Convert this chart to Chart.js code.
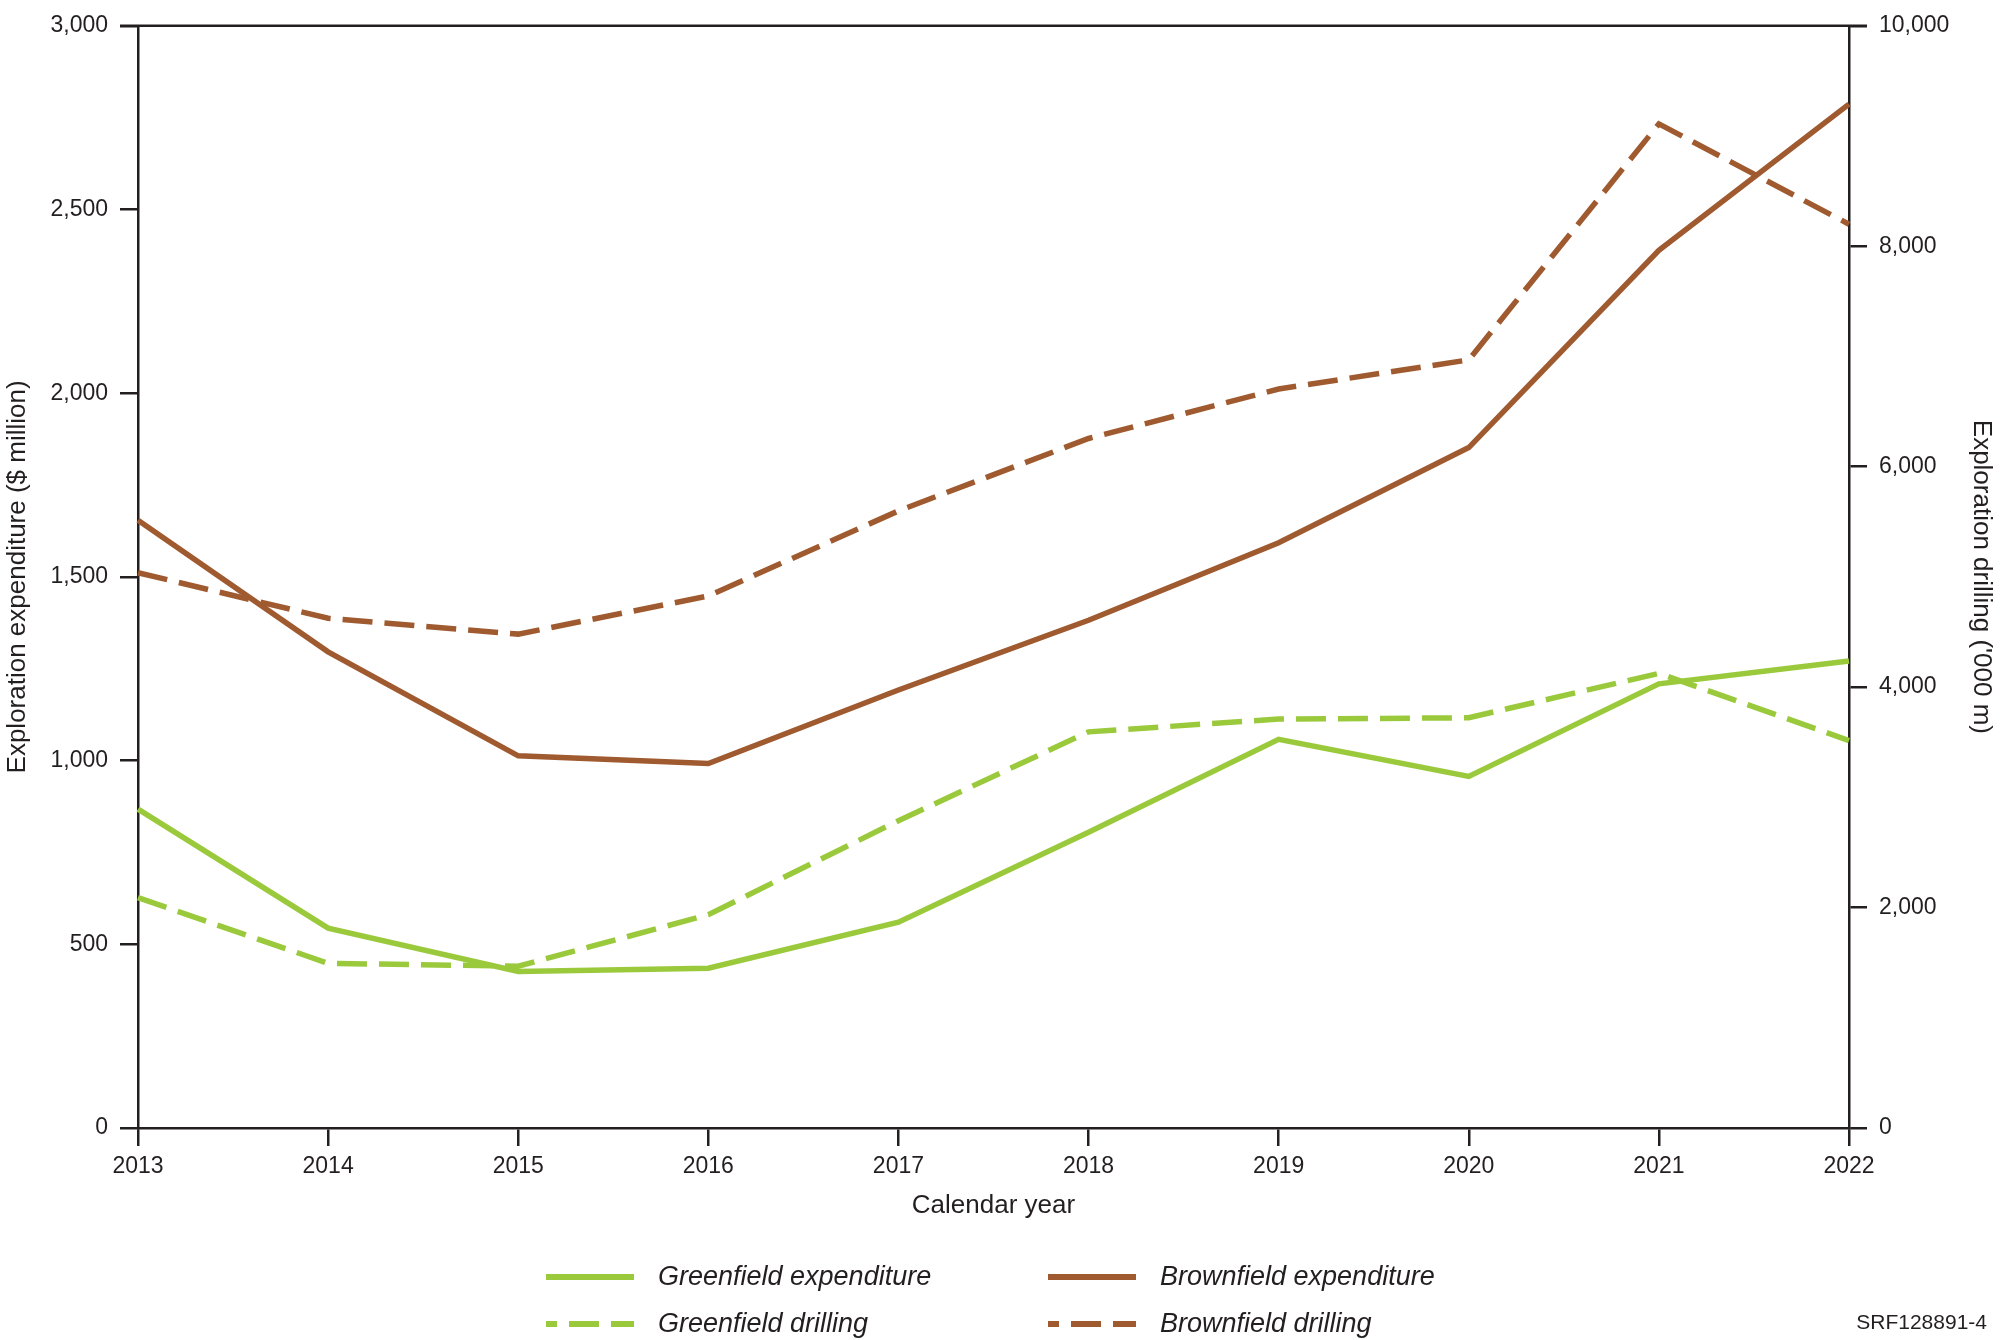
<!DOCTYPE html>
<html>
<head>
<meta charset="utf-8">
<script src="https://cdn.jsdelivr.net/npm/chart.js@4.4.0/dist/chart.umd.min.js"></script>
<style>
  html, body { margin: 0; padding: 0; background: #fff; }
  #wrap { width: 2000px; height: 1340px; position: relative; }
</style>
</head>
<body>
<div id="wrap"><canvas id="myChart" width="2000" height="1340"></canvas></div>
<script>
// values
const years = ['2013', '2014', '2015', '2016', '2017', '2018', '2019', '2020', '2021', '2022'];
const greenExpenditure = [868, 544, 426, 435, 560, 805, 1058, 957, 1209, 1271];
const brownExpenditure = [1654, 1296, 1013, 992, 1192, 1382, 1593, 1852, 2389, 2787];
const greenDrilling = [2090, 1494, 1468, 1935, 2788, 3594, 3710, 3722, 4125, 3515];
const brownDrilling = [5038, 4625, 4481, 4827, 5599, 6256, 6705, 6969, 9110, 8200];

const leftTicks = [0, 500, 1000, 1500, 2000, 2500, 3000];
const rightTicks = [0, 2000, 4000, 6000, 8000, 10000];

const GREEN = '#9aca3c';
const BROWN = '#a05a2f';
const INK = '#231f20';
const FONT = "'Liberation Sans Narrow', 'Arial Narrow', 'Liberation Sans', sans-serif";

const legendLayout = [
  { ds: 0, col: 0, row: 0 },
  { ds: 1, col: 1, row: 0 },
  { ds: 2, col: 0, row: 1 },
  { ds: 3, col: 1, row: 1 }
];

const extras = {
  id: 'extras',
  afterDraw(chart) {
    const ctx = chart.ctx;
    const a = chart.chartArea;
    ctx.save();
    // top frame line
    ctx.strokeStyle = INK;
    ctx.lineWidth = 2.5;
    ctx.beginPath();
    ctx.moveTo(a.left - 18, a.top);
    ctx.lineTo(a.right + 18, a.top);
    ctx.stroke();

    // legend
    const colX = [546, 1048];
    const rowY = [1277, 1324];
    ctx.font = "italic 27px " + FONT;
    ctx.textBaseline = 'middle';
    ctx.textAlign = 'left';
    legendLayout.forEach(it => {
      const d = chart.data.datasets[it.ds];
      const x = colX[it.col], y = rowY[it.row];
      ctx.strokeStyle = d.borderColor;
      ctx.lineWidth = 6;
      ctx.setLineDash(d.borderDash || []);
      ctx.lineDashOffset = d.borderDash ? 19 : 0;
      ctx.beginPath();
      ctx.moveTo(x, y);
      ctx.lineTo(x + 88, y);
      ctx.stroke();
      ctx.setLineDash([]);
      ctx.fillStyle = INK;
      ctx.fillText(d.label, x + 112, y);
    });

    ctx.font = "21px " + FONT;
    ctx.textAlign = 'right';
    ctx.fillText('SRF128891-4', 1987, 1323);
    ctx.restore();
  }
};

const ctx = document.getElementById('myChart').getContext('2d');
new Chart(ctx, {
  type: 'line',
  data: {
    labels: years,
    datasets: [{
      label: 'Greenfield expenditure',
      data: greenExpenditure,
      yAxisID: 'y',
      borderColor: GREEN,
      borderWidth: 5.5
    }, {
      label: 'Brownfield expenditure',
      data: brownExpenditure,
      yAxisID: 'y',
      borderColor: BROWN,
      borderWidth: 5.5
    }, {
      label: 'Greenfield drilling',
      data: greenDrilling,
      yAxisID: 'y2',
      borderColor: GREEN,
      borderWidth: 5.5,
      borderDash: [30, 12]
    }, {
      label: 'Brownfield drilling',
      data: brownDrilling,
      yAxisID: 'y2',
      borderColor: BROWN,
      borderWidth: 5.5,
      borderDash: [30, 12]
    }]
  },
  options: {
    responsive: false,
    animation: false,
    locale: 'en-US',
    devicePixelRatio: 1,
    elements: {
      point: { radius: 0, hoverRadius: 0 },
      line: { tension: 0, fill: false, borderCapStyle: 'butt', borderJoinStyle: 'miter' }
    },
    layout: { padding: { top: 20, left: 0, right: 0, bottom: 112 } },
    plugins: { legend: { display: false }, tooltip: { enabled: false } },
    scales: {
      x: {
        offset: false,
        grid: { drawOnChartArea: false, drawTicks: true, tickLength: 18, color: INK, lineWidth: 2.5 },
        border: { display: true, color: INK, width: 2.5 },
        ticks: { color: INK, font: { family: FONT, size: 23 }, padding: 7, maxRotation: 0, autoSkip: false },
        title: { display: true, text: 'Calendar year', color: INK, font: { family: FONT, size: 26 }, padding: { top: 0, bottom: 7 } },
        afterFit(scale) { scale.height = 100; }
      },
      y: {
        position: 'left',
        min: 0,
        max: 3000,
        afterBuildTicks(scale) { scale.ticks = leftTicks.map(v => ({ value: v })); },
        grid: { drawOnChartArea: false, drawTicks: true, tickLength: 18, color: INK, lineWidth: 2.5 },
        border: { display: true, color: INK, width: 2.5 },
        ticks: { color: INK, font: { family: FONT, size: 23 }, padding: 12, callback: v => v.toLocaleString('en-US') },
        title: { display: true, text: 'Exploration expenditure ($ million)', color: INK, font: { family: FONT, size: 26 }, padding: { top: 2, bottom: 0 } },
        afterFit(scale) { scale.width = 138; }
      },
      y2: {
        position: 'right',
        min: 0,
        max: 10000,
        afterBuildTicks(scale) { scale.ticks = rightTicks.map(v => ({ value: v })); },
        grid: { drawOnChartArea: false, drawTicks: true, tickLength: 18, color: INK, lineWidth: 2.5 },
        border: { display: true, color: INK, width: 2.5 },
        ticks: { color: INK, font: { family: FONT, size: 23 }, padding: 12, callback: v => v.toLocaleString('en-US') },
        title: { display: true, text: "Exploration drilling ('000 m)", color: INK, font: { family: FONT, size: 26 }, padding: { top: 3, bottom: 0 } },
        afterFit(scale) { scale.width = 151; }
      }
    }
  },
  plugins: [extras]
});
</script>
</body>
</html>
